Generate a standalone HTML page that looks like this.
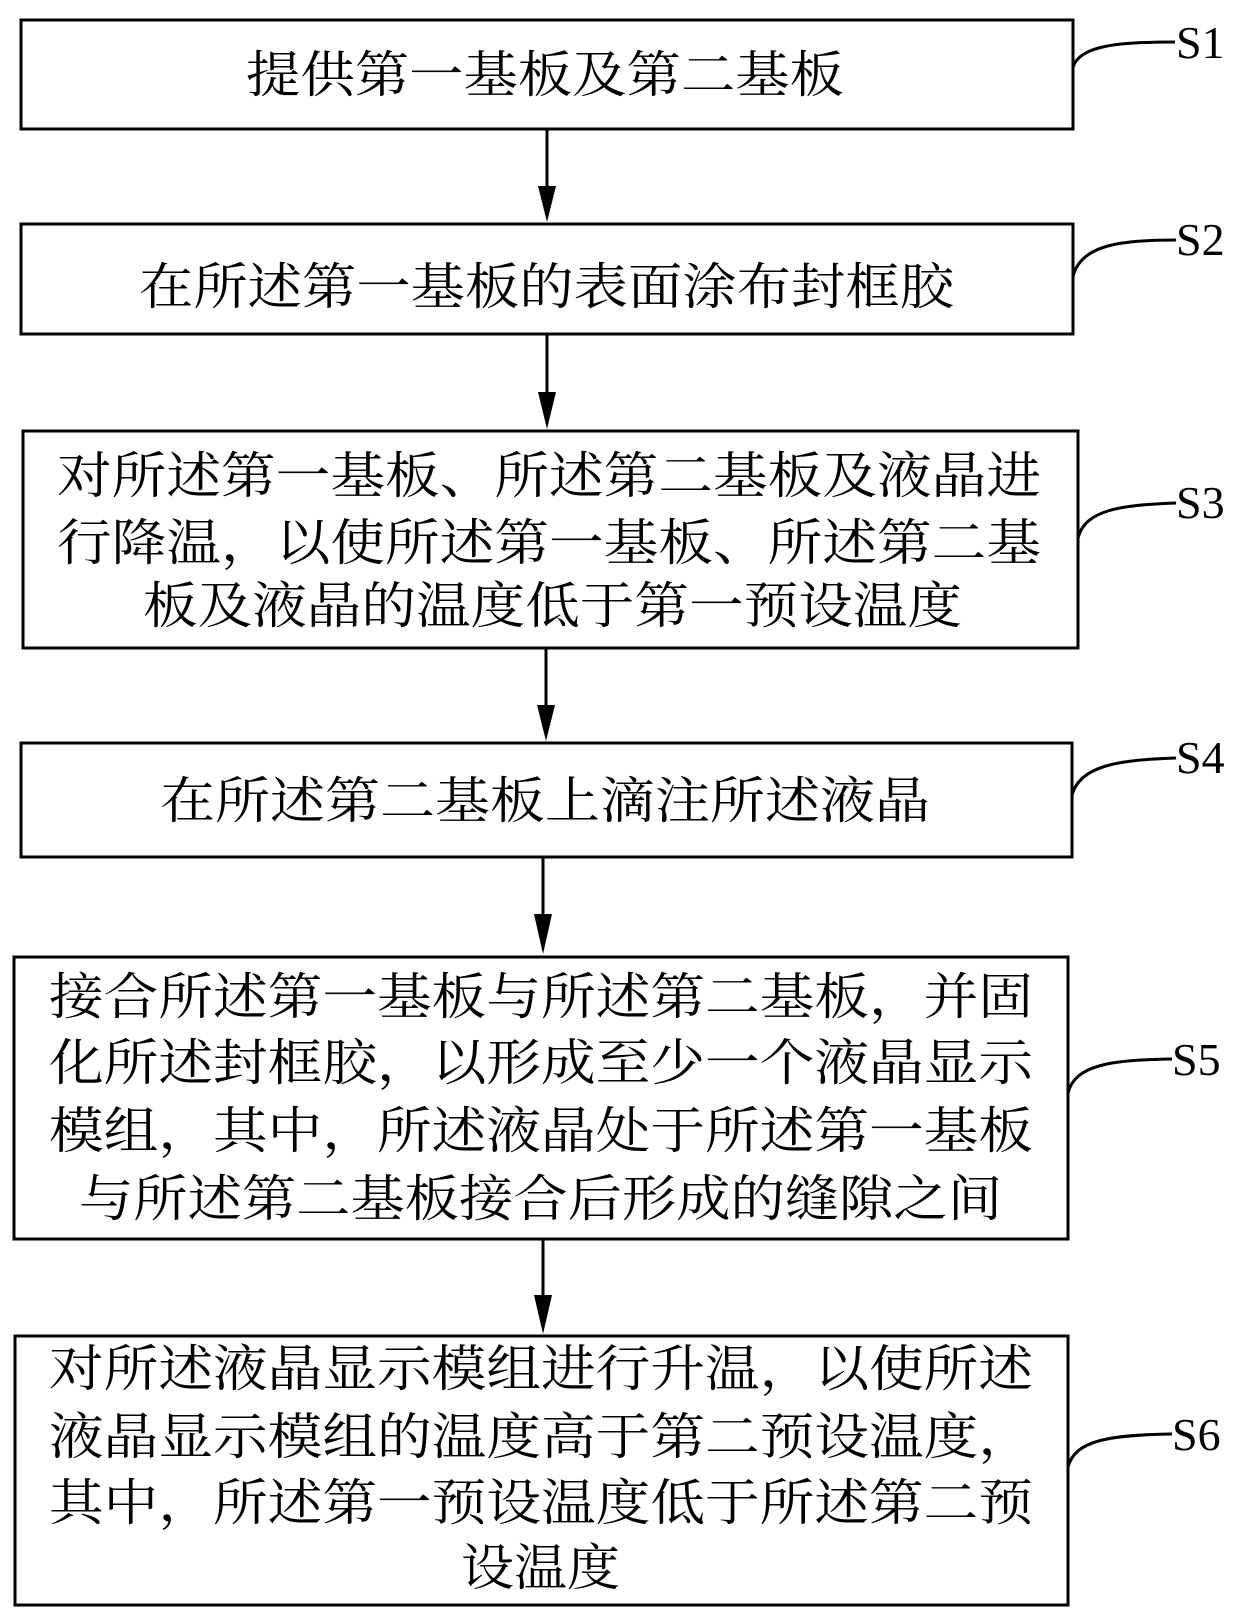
<!DOCTYPE html>
<html><head><meta charset="utf-8"><style>html,body{margin:0;padding:0;background:#fff}</style></head>
<body>
<svg width="1240" height="1621" viewBox="0 0 1240 1621" xmlns="http://www.w3.org/2000/svg" style="display:block">
<g fill="none" stroke="#000" stroke-width="3">
<rect x="21" y="20" width="1052" height="109"/>
<rect x="21" y="224" width="1052" height="110"/>
<rect x="23" y="431" width="1055" height="217"/>
<rect x="21" y="743" width="1051" height="114"/>
<rect x="14" y="957" width="1054" height="282"/>
<rect x="15" y="1336" width="1053" height="269"/>
<line x1="547" y1="129" x2="547" y2="190"/>
<line x1="547" y1="334" x2="547" y2="395"/>
<line x1="546" y1="648" x2="546" y2="708"/>
<line x1="543" y1="857" x2="543" y2="918"/>
<line x1="543" y1="1239" x2="543" y2="1298"/>
<path d="M1073 67 C1080 45 1120 42 1175 42"/>
<path d="M1073 277 C1080 245 1120 240 1176 240"/>
<path d="M1078 538 C1085 510 1120 505 1176 503"/>
<path d="M1072 795 C1080 765 1120 760 1176 758"/>
<path d="M1068 1093 C1075 1065 1110 1060 1172 1059"/>
<path d="M1068 1467 C1075 1440 1110 1435 1172 1434"/>
</g>
<g fill="#000">
<polygon points="538,186 556,186 547,222"/>
<polygon points="538,392 556,392 547,429"/>
<polygon points="537,705 555,705 546,741"/>
<polygon points="534,914 552,914 543,954"/>
<polygon points="534,1295 552,1295 543,1334"/>
</g>
<g font-family="Liberation Serif, serif" font-size="46" fill="#000">
<text x="1176" y="58">S1</text>
<text x="1176" y="255">S2</text>
<text x="1176" y="518">S3</text>
<text x="1176" y="773">S4</text>
<text x="1172" y="1075">S5</text>
<text x="1172" y="1450">S6</text>
</g>
<g font-family="Liberation Serif, 'Noto Serif CJK SC', serif" font-size="50" fill="#000" lengthAdjust="spacingAndGlyphs">
<text x="246" y="92" textLength="598" lengthAdjust="spacingAndGlyphs">提供第一基板及第二基板</text>
<text x="139" y="304" textLength="815" lengthAdjust="spacingAndGlyphs">在所述第一基板的表面涂布封框胶</text>
<text x="57" y="493" textLength="984" lengthAdjust="spacingAndGlyphs">对所述第一基板、所述第二基板及液晶进</text>
<text x="57" y="560" textLength="984" lengthAdjust="spacingAndGlyphs">行降温，以使所述第一基板、所述第二基</text>
<text x="143" y="623" textLength="819" lengthAdjust="spacingAndGlyphs">板及液晶的温度低于第一预设温度</text>
<text x="160" y="818" textLength="770" lengthAdjust="spacingAndGlyphs">在所述第二基板上滴注所述液晶</text>
<text x="49" y="1014" textLength="984" lengthAdjust="spacingAndGlyphs">接合所述第一基板与所述第二基板，并固</text>
<text x="49" y="1080" textLength="984" lengthAdjust="spacingAndGlyphs">化所述封框胶，以形成至少一个液晶显示</text>
<text x="49" y="1148" textLength="984" lengthAdjust="spacingAndGlyphs">模组，其中，所述液晶处于所述第一基板</text>
<text x="79" y="1216" textLength="923" lengthAdjust="spacingAndGlyphs">与所述第二基板接合后形成的缝隙之间</text>
<text x="49" y="1386" textLength="984" lengthAdjust="spacingAndGlyphs">对所述液晶显示模组进行升温，以使所述</text>
<text x="49" y="1454" textLength="984" lengthAdjust="spacingAndGlyphs">液晶显示模组的温度高于第二预设温度，</text>
<text x="49" y="1520" textLength="984" lengthAdjust="spacingAndGlyphs">其中，所述第一预设温度低于所述第二预</text>
<text x="461" y="1585" textLength="159" lengthAdjust="spacingAndGlyphs">设温度</text>
</g>
</svg>
</body></html>
